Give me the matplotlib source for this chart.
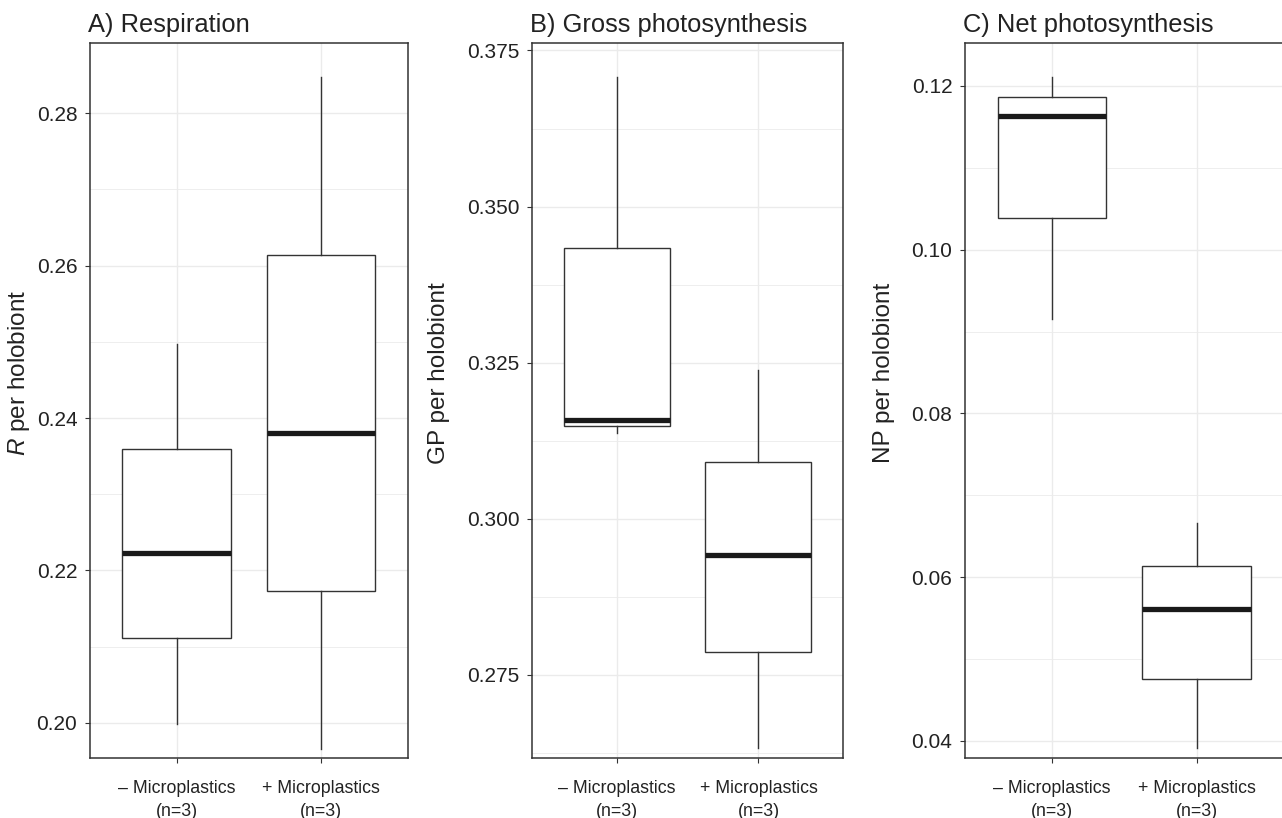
import numpy as np
import matplotlib.pyplot as plt
from matplotlib.ticker import FixedLocator, FormatStrFormatter

plt.rcParams['font.family'] = ['Liberation Sans', 'DejaVu Sans']
plt.rcParams['mathtext.fontset'] = 'custom'
plt.rcParams['mathtext.rm'] = 'Liberation Sans'
plt.rcParams['mathtext.it'] = 'Liberation Sans:italic'

groups = ['\u2013 Microplastics\n(n=3)', '+ Microplastics\n(n=3)']

# three replicates per group (min, median, max)
resp_minus = [0.1999, 0.2223, 0.2497]
resp_plus = [0.1966, 0.2381, 0.2848]
gross_minus = [0.3138, 0.3159, 0.3708]
gross_plus = [0.2633, 0.2942, 0.3239]
net_minus = [0.0915, 0.1163, 0.1211]
net_plus = [0.0391, 0.0561, 0.0666]

panels = [
    dict(title='A) Respiration', ylabel='$\\mathit{R}$ per holobiont',
         data=[resp_minus, resp_plus], ylim=(0.1954, 0.2892),
         major=[0.20, 0.22, 0.24, 0.26, 0.28], fmt='%.2f',
         rect=[90, 43, 407.5, 758], lab_x=32),
    dict(title='B) Gross photosynthesis', ylabel='GP per holobiont',
         data=[gross_minus, gross_plus], ylim=(0.2617, 0.3762),
         major=[0.275, 0.300, 0.325, 0.350, 0.375], fmt='%.3f',
         rect=[532.3, 43, 843.3, 758], lab_x=450),
    dict(title='C) Net photosynthesis', ylabel='NP per holobiont',
         data=[net_minus, net_plus], ylim=(0.0379, 0.12525),
         major=[0.04, 0.06, 0.08, 0.10, 0.12], fmt='%.2f',
         rect=[965, 43, 1283.5, 758], lab_x=895),
]

W, H = 1282, 818
fig = plt.figure(figsize=(W / 100, H / 100), dpi=100)

edge = '#333333'
grid = '#EBEBEB'
txt = '#222222'

for p in panels:
    x0, y0, x1, y1 = p['rect']
    ax = fig.add_axes([x0 / W, 1 - y1 / H, (x1 - x0) / W, (y1 - y0) / H])
    ax.set_axisbelow(True)
    ax.boxplot(p['data'], positions=[1, 2], widths=0.75, whis=(0, 100),
               showcaps=False, showfliers=False, patch_artist=True,
               boxprops=dict(facecolor='white', edgecolor=edge, linewidth=1.0),
               whiskerprops=dict(color=edge, linewidth=1.0),
               medianprops=dict(color='#1a1a1a', linewidth=3.8, solid_capstyle='butt'))
    ax.set_xlim(0.4, 2.6)
    ax.set_ylim(*p['ylim'])
    major = p['major']
    step = major[1] - major[0]
    minor = [m + step / 2 for m in [major[0] - step] + major]
    ax.yaxis.set_major_locator(FixedLocator(major))
    ax.yaxis.set_minor_locator(FixedLocator(minor))
    ax.yaxis.set_major_formatter(FormatStrFormatter(p['fmt']))
    ax.set_xticks([1, 2], labels=groups)
    ax.grid(True, which='major', color=grid, linewidth=1.0)
    ax.grid(True, which='minor', axis='y', color=grid, linewidth=0.6)
    ax.tick_params(axis='y', which='minor', length=0)
    ax.tick_params(axis='y', which='major', length=3.6, width=0.8, color=edge,
                   labelsize=15, labelcolor=txt, pad=5.5)
    ax.tick_params(axis='x', which='major', length=3.6, width=0.8, color=edge,
                   labelsize=12.8, labelcolor=txt, pad=12)
    for lab in ax.get_xticklabels():
        lab.set_linespacing(1.5)
    for s in ax.spines.values():
        s.set_color(edge)
        s.set_linewidth(1.1)
    ax.set_ylabel(p['ylabel'], fontsize=17.5, color=txt)
    ax.yaxis.set_label_coords((p['lab_x'] - x0) / (x1 - x0), (y1 - 373) / (y1 - y0))
    ax.set_title(p['title'], loc='left', fontsize=18.4, color=txt, pad=8, x=-0.006)

fig.savefig('out.png', dpi=100)
